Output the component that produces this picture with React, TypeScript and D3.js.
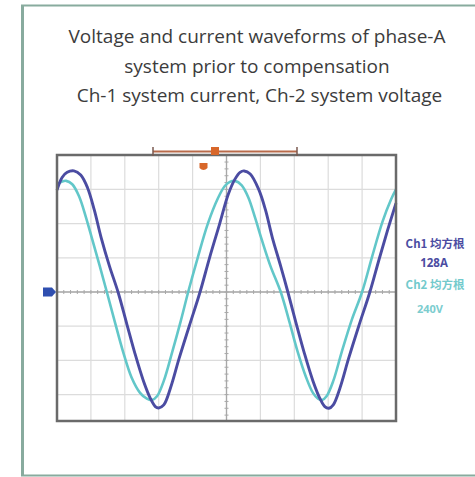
import React from "react";
import * as d3 from "d3";

const titleLines = [
  "Voltage and current waveforms of phase-A",
  "system prior to compensation",
  " Ch-1 system current, Ch-2 system voltage",
];

// time in divisions, value in divisions
const ch1T = [0, 0.15, 0.3, 0.5, 0.7, 0.9, 1.1, 1.3, 1.55, 1.8, 2.05, 2.3, 2.55, 2.75, 2.9, 3.0, 3.15, 3.35, 3.6, 3.9, 4.22, 4.5, 4.8, 5.05, 5.25, 5.4, 5.52, 5.7, 5.95, 6.15, 6.35, 6.6, 6.81, 7.05, 7.3, 7.55, 7.75, 7.9, 8.02, 8.15, 8.35, 8.6, 8.9, 9.23, 9.5, 9.75, 10];
const ch1V = [2.98, 3.35, 3.5, 3.54, 3.42, 3.05, 2.4, 1.6, 0.75, 0, -0.9, -1.8, -2.6, -3.1, -3.35, -3.39, -3.3, -2.8, -1.95, -1.0, 0, 1.0, 2.0, 2.85, 3.3, 3.5, 3.54, 3.45, 3.0, 2.4, 1.6, 0.75, 0, -0.9, -1.8, -2.6, -3.1, -3.35, -3.4, -3.3, -2.8, -1.95, -1.0, 0, 0.95, 1.8, 2.6];

const ch2T = [0, 0.15, 0.27, 0.45, 0.65, 0.85, 1.05, 1.25, 1.47, 1.7, 1.95, 2.2, 2.45, 2.65, 2.8, 2.95, 3.15, 3.4, 3.65, 3.87, 4.15, 4.45, 4.75, 4.95, 5.1, 5.25, 5.45, 5.65, 5.85, 6.05, 6.3, 6.6, 6.85, 7.1, 7.35, 7.55, 7.7, 7.82, 7.95, 8.15, 8.4, 8.7, 9.0, 9.3, 9.6, 9.85, 10];
const ch2V = [3.15, 3.23, 3.25, 3.15, 2.8, 2.2, 1.5, 0.8, 0, -0.85, -1.75, -2.5, -2.95, -3.12, -3.16, -3.05, -2.6, -1.75, -0.85, 0, 1.0, 2.0, 2.75, 3.1, 3.22, 3.25, 3.12, 2.75, 2.15, 1.5, 0.75, 0, -0.85, -1.75, -2.5, -2.95, -3.12, -3.16, -3.05, -2.6, -1.75, -0.8, 0, 1.05, 2.05, 2.7, 3.0];

const xDivs = d3.range(1, 10);
const yDivs = d3.range(-3, 4);

const ch1Label = "Ch1 均方根";
const ch1Value = "128A";
const ch2Label = "Ch2 均方根";
const ch2Value = "240V";

const C1 = "#4b4ca2";
const C2 = "#62c7c9";
const ORANGE = "#d8672a";

export default function App() {
  const left = 57, right = 396, top = 155, bottom = 421;
  const x = d3.scaleLinear().domain([0, 10]).range([left, right]);
  const divPx = 34.2;
  const y0 = 292;
  const y = d3.scaleLinear().domain([-(bottom - y0) / divPx, (y0 - top) / divPx]).range([bottom, top]);

  const line = d3
    .line<[number, number]>()
    .x((d) => x(d[0]))
    .y((d) => y(d[1]))
    .curve(d3.curveCatmullRom.alpha(0.5));

  const d1 = line(ch1T.map((t, i) => [t, ch1V[i]] as [number, number])) || "";
  const d2 = line(ch2T.map((t, i) => [t, ch2V[i]] as [number, number])) || "";

  const cx = x(5);
  const cy = y(0);
  const xMinor = d3.range(0, 10.001, 0.2);
  const yMinor = d3.range(Math.ceil(y.domain()[0] / 0.2) * 0.2, y.domain()[1] + 0.001, 0.2);

  const font = "'Open Sans', 'Noto Sans', sans-serif";
  const cjkFont = "'Noto Sans CJK SC', 'Open Sans', sans-serif";

  return (
    <svg
      width={475}
      height={477}
      style={{ position: "absolute", left: 0, top: 0, background: "#fff" }}
    >
      <rect x={0} y={0} width={475} height={477} fill="#ffffff" />
      {/* outer frame */}
      <line x1={22.5} y1={5} x2={22.5} y2={476} stroke="#88ab9e" strokeWidth={3} />
      <line x1={21} y1={5.5} x2={475} y2={5.5} stroke="#88ab9e" strokeWidth={2} />
      <line x1={21} y1={475.5} x2={475} y2={475.5} stroke="#88ab9e" strokeWidth={2} />

      {/* title */}
      {titleLines.map((t, i) => (
        <text
          key={i}
          x={257}
          y={43 + i * 29.5}
          textAnchor="middle"
          fontFamily={font}
          fontSize={19}
          fill="#3c3c3c"
          style={{ whiteSpace: "pre" }}
        >
          {t}
        </text>
      ))}

      {/* grid */}
      <g>
        {xDivs.map((d) => (
          <line key={"gx" + d} x1={x(d)} x2={x(d)} y1={top} y2={bottom} stroke="#dcdcdc" strokeWidth={1.2} />
        ))}
        {yDivs.map((d) => (
          <line key={"gy" + d} x1={left} x2={right} y1={y(d)} y2={y(d)} stroke="#dcdcdc" strokeWidth={1.2} />
        ))}
        <line x1={cx} x2={cx} y1={top} y2={bottom} stroke="#a8a8a8" strokeWidth={1.3} />
        <line x1={left} x2={right} y1={cy} y2={cy} stroke="#a8a8a8" strokeWidth={1.3} />
        {xMinor.map((d, i) => (
          <line key={"tx" + i} x1={x(d)} x2={x(d)} y1={cy - 2} y2={cy + 2} stroke="#a8a8a8" strokeWidth={1} />
        ))}
        {yMinor.map((d, i) => (
          <line key={"ty" + i} x1={cx - 2} x2={cx + 2} y1={y(d)} y2={y(d)} stroke="#a8a8a8" strokeWidth={1} />
        ))}
      </g>

      {/* waveforms */}
      <path d={d2} fill="none" stroke={C2} strokeWidth={2.6} strokeLinejoin="round" />
      <path d={d1} fill="none" stroke={C1} strokeWidth={2.9} strokeLinejoin="round" />

      {/* plot border */}
      <rect x={left} y={top} width={right - left} height={bottom - top} fill="none" stroke="#6a6a6a" strokeWidth={2.5} />

      {/* trigger bar */}
      <line x1={153} x2={297} y1={151.5} y2={151.5} stroke="#b86a4a" strokeWidth={2} />
      <line x1={153} x2={153} y1={147} y2={156} stroke="#7a5a50" strokeWidth={1.5} />
      <line x1={297} x2={297} y1={147} y2={156} stroke="#7a5a50" strokeWidth={1.5} />
      <rect x={211} y={147} width={8} height={8} fill={ORANGE} />
      <path d="M199.5,163 L207.5,163 L207.5,168 Q203.5,172 199.5,168 Z" fill={ORANGE} />

      {/* channel marker */}
      <path d={`M43,${cy - 4.5} L52,${cy - 4.5} L56,${cy} L52,${cy + 4.5} L43,${cy + 4.5} Z`} fill="#2f4fb0" />

      {/* right labels */}
      <text x={435} y={248} textAnchor="middle" fontFamily={cjkFont} fontSize={11.5} fontWeight="bold" fill={C1}>
        {ch1Label}
      </text>
      <text x={434} y={267} textAnchor="middle" fontFamily={font} fontSize={11.5} fontWeight="bold" fill={C1}>
        {ch1Value}
      </text>
      <text x={435} y={289} textAnchor="middle" fontFamily={cjkFont} fontSize={11.5} fontWeight="bold" fill="#72cacc">
        {ch2Label}
      </text>
      <text x={430} y={313} textAnchor="middle" fontFamily={font} fontSize={11} fontWeight="bold" fill="#7ccdcf">
        {ch2Value}
      </text>
    </svg>
  );
}
